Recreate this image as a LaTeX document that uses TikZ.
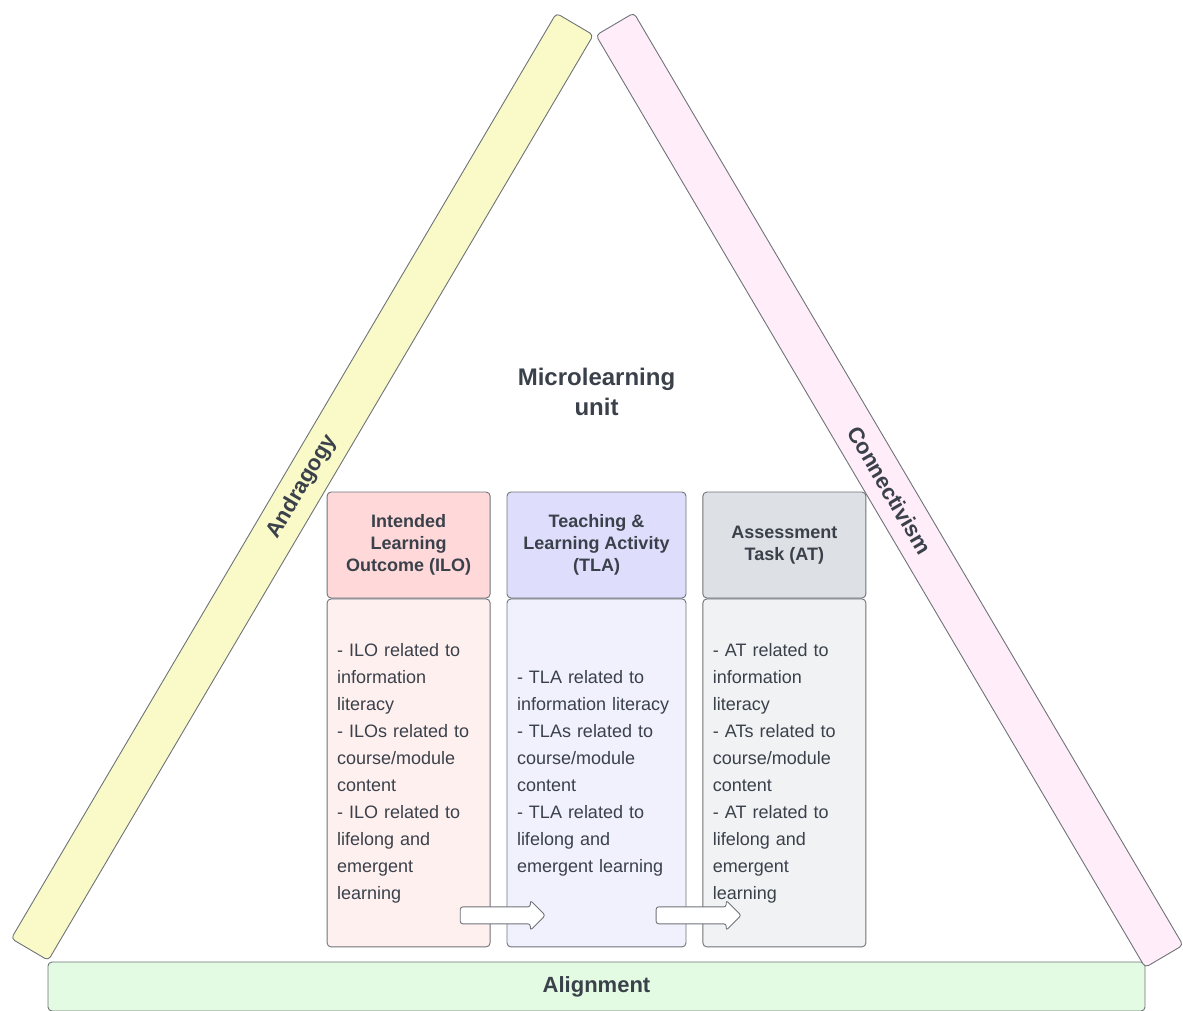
\documentclass[tikz,border=0pt]{standalone}
\usepackage{fontspec}
\setmainfont{Liberation Sans}
\usetikzlibrary{positioning, calc, shapes.arrows}

\definecolor{inkgray}{HTML}{3A414A}
\definecolor{linegray}{HTML}{6E7378}
\definecolor{andrafill}{HTML}{FAFAC8}
\definecolor{connfill}{HTML}{FFEDFA}
\definecolor{alignfill}{HTML}{E3FAE3}
\definecolor{ilohead}{HTML}{FFD9D9}
\definecolor{ilobody}{HTML}{FFF0F0}
\definecolor{tlahead}{HTML}{DEDEFC}
\definecolor{tlabody}{HTML}{F1F1FD}
\definecolor{athead}{HTML}{DDE0E4}
\definecolor{atbody}{HTML}{F1F2F4}

\begin{document}
\begin{tikzpicture}[
    x=1pt, y=-1pt,
    font=\fontsize{18}{27}\selectfont,
    text=inkgray,
    box/.style={draw=linegray, rounded corners=4pt, inner sep=0pt, line width=0.9pt},
    head/.style={box, minimum height=106pt, align=center, font=\fontsize{18}{22}\selectfont\bfseries},
    body/.style={box, minimum height=348pt, align=left, inner xsep=10pt},
    bar/.style={box, minimum height=43pt, font=\fontsize{22}{26}\selectfont\bfseries},
    flow/.style={single arrow, draw=linegray, fill=white, line width=0.9pt, rounded corners=2.5pt,
        minimum height=85pt, inner xsep=0pt, inner ysep=8pt, single arrow head extend=6.5pt}
]
    \useasboundingbox (0,0) rectangle (1183,1010);

    % the three sides
    \node[bar, fill=alignfill, minimum width=1097pt, minimum height=49pt] (align) at (596.5,986.5) {Alignment};
    \node[bar, fill=andrafill, rotate=59.5, minimum width=1074pt] (andra) at (302.3,486.8) {Andragogy};
    \node[bar, fill=connfill, rotate=-59.5, minimum width=1082pt, minimum height=44pt] (conn) at (889.5,490.2) {Connectivism};

    \node[font=\fontsize{24}{30}\selectfont\bfseries, align=center] (title) at (596.5,392) {Microlearning\\unit};

    % column heads
    \node[head, fill=tlahead, minimum width=179pt] (tlahd) at (596.5,545) {Teaching \&\\Learning Activity\\(TLA)};
    \node[head, fill=ilohead, minimum width=163pt, left=16pt of tlahd] (ilohd) {Intended\\Learning\\Outcome (ILO)};
    \node[head, fill=athead, minimum width=163pt, right=16pt of tlahd] (athd) {Assessment\\Task (AT)};

    % column bodies
    \node[body, fill=ilobody, text width=143pt, below=0pt of ilohd] (ilobd) {- ILO related to\\information\\literacy\\- ILOs related to\\course/module\\content\\- ILO related to\\lifelong and\\emergent\\learning};
    \node[body, fill=tlabody, text width=159pt, below=0pt of tlahd] (tlabd) {- TLA related to\\information literacy\\- TLAs related to\\course/module\\content\\- TLA related to\\lifelong and\\emergent learning};
    \node[body, fill=atbody, text width=143pt, below=0pt of athd] (atbd) {- AT related to\\information\\literacy\\- ATs related to\\course/module\\content\\- AT related to\\lifelong and\\emergent\\learning};

    \node[flow] (ilo2tla) at ($(ilobd.south east)!0.5!(tlabd.south west)+(0,-32)$) {};
    \node[flow] (tla2at) at ($(tlabd.south east)!0.5!(atbd.south west)+(0,-32)$) {};

\end{tikzpicture}
\end{document}
